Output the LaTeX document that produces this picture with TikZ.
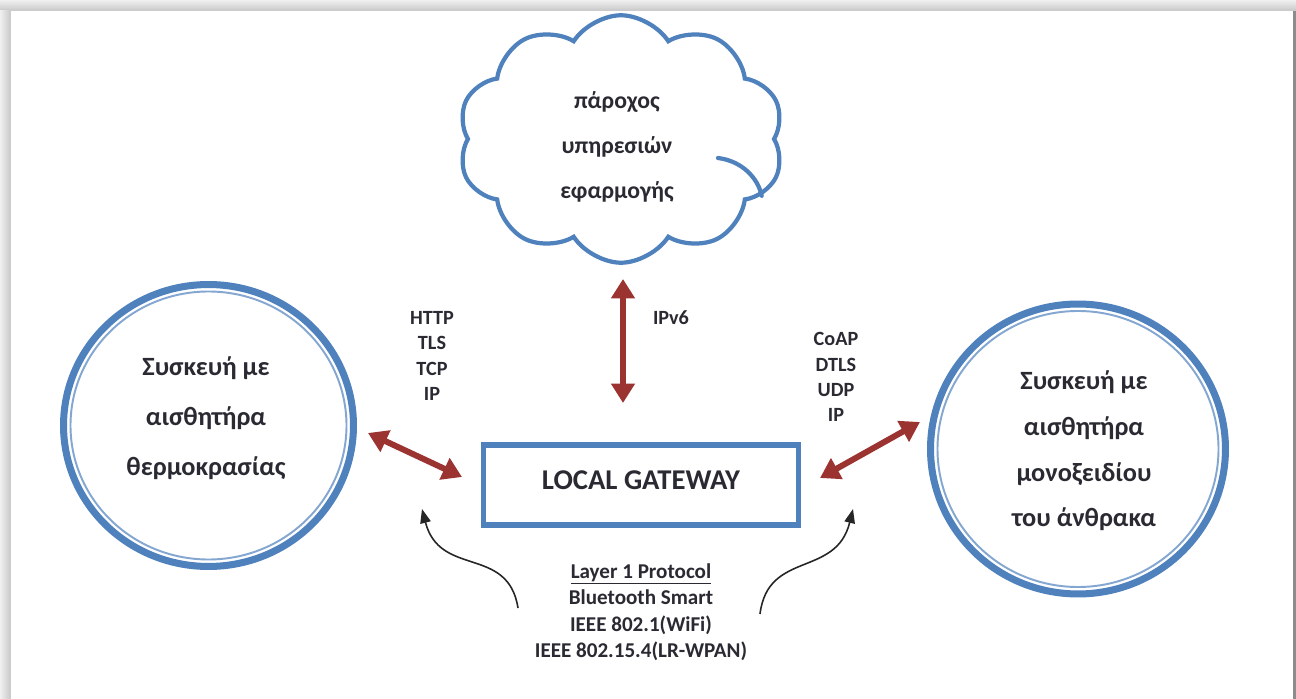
\documentclass[tikz,border=0pt]{standalone}
\usepackage{fontspec}
\setmainfont{Carlito}
\usetikzlibrary{shapes.symbols,shapes.geometric,arrows.meta}

\definecolor{ringblue}{HTML}{4F81BD}
\definecolor{linkred}{HTML}{9B3331}
\definecolor{inkgray}{HTML}{2A2A33}

\tikzset{
  ring/.style={ellipse, draw=ringblue, line width=4pt, inner sep=0pt},
  innerring/.style={draw=ringblue!70, line width=1.1pt},
  devtext/.style={text=inkgray, align=center, font=\bfseries\fontsize{15}{#1}\selectfont},
  proto/.style={text=inkgray, align=center, font=\bfseries\fontsize{11.5}{14.3}\selectfont},
  link/.style={draw=linkred, line width=3.4pt,
    {Triangle[width=13pt,length=11pt]}-{Triangle[width=13pt,length=11pt]}},
  hint/.style={draw=black!85, line width=0.9pt, -{Triangle[width=6pt,length=8pt]}},
  fold/.style={draw=ringblue, line width=2.4pt, line cap=round}
}

\begin{document}
\begin{tikzpicture}[x=0.02cm,y=-0.02cm]
  \useasboundingbox (0,0) rectangle (1296,699);

  % page with soft shadow border
  \fill[black!12] (0,0) rectangle (1296,699);
  \shade[top color=black!6, bottom color=black!22] (0,0) rectangle (1296,11);
  \shade[left color=black!6, right color=black!22] (0,11) rectangle (11,699);
  \fill[white] (11,11) rectangle (1293,699);
  \fill[black!45] (1293,11) rectangle (1296,699);

  % cloud: application service provider
  \node[cloud, cloud puffs=10, cloud puff arc=115, cloud ignores aspect,
        minimum width=6.52cm, minimum height=4.95cm, draw=ringblue,
        line width=2.4pt, fill=white] (cloud) at (621,139) {};
  \draw[fold] (718,158) .. controls (742,161) and (758,178) .. (cloud.-22);
  \node[text=inkgray, align=center, font=\bfseries\fontsize{13.5}{25.5}\selectfont]
        (cloudtxt) at (617,147) {πάροχος\\υπηρεσιών\\εφαρμογής};

  % temperature sensor device
  \node[ring, minimum width=5.8cm, minimum height=5.64cm] (tdev) at (208.5,425.5) {};
  \draw[innerring] (tdev.center) ellipse [x radius=138, y radius=134];
  \node[devtext=28.3] (tdevtxt) at (206,418) {Συσκευή με\\αισθητήρα\\θερμοκρασίας};

  % carbon monoxide sensor device
  \node[ring, minimum width=5.9cm, minimum height=5.8cm] (cdev) at (1078,449) {};
  \draw[innerring] (cdev.center) ellipse [x radius=140.5, y radius=138];
  \node[devtext=26] (cdevtxt) at (1084,451) {Συσκευή με\\αισθητήρα\\μονοξειδίου\\του άνθρακα};

  % local gateway
  \node[draw=ringblue, line width=3pt, minimum width=6.3cm, minimum height=1.6cm,
        text=inkgray, font=\bfseries\fontsize{16.3}{19}\selectfont,
        text depth=6pt] (gw) at (641,485) {LOCAL GATEWAY};

  % protocol stacks
  \node[proto] (webstack) at (432,356) {HTTP\\TLS\\TCP\\IP};
  \node[proto] (ipv6) at (671,318) {IPv6};
  \node[proto] (coapstack) at (836,377) {CoAP\\DTLS\\UDP\\IP};

  % layer 1 protocols
  \node[text=inkgray, align=center, font=\bfseries\fontsize{12}{15.1}\selectfont]
        (layer) at (641,612) {\underline{Layer 1 Protocol}\\Bluetooth Smart\\IEEE 802.1(WiFi)\\IEEE 802.15.4(LR-WPAN)};

  % link end points
  \coordinate (upA) at (623,279);
  \coordinate (upB) at (623,403);
  \coordinate (leftA) at (368,433);
  \coordinate (leftB) at (462,477);
  \coordinate (rightA) at (820,478);
  \coordinate (rightB) at (920,422);
  \coordinate (hintLs) at (518,608);
  \coordinate (hintLe) at (422,509);
  \coordinate (hintRs) at (760,614);
  \coordinate (hintRe) at (853,509);

  % links
  \draw[link] (upA) -- (upB);
  \draw[link] (leftA) -- (leftB);
  \draw[link] (rightA) -- (rightB);

  % layer 1 pointers
  \draw[hint] (hintLs) .. controls (508,545) and (440,578) .. (hintLe);
  \draw[hint] (hintRs) .. controls (768,550) and (836,578) .. (hintRe);
\end{tikzpicture}
\end{document}
